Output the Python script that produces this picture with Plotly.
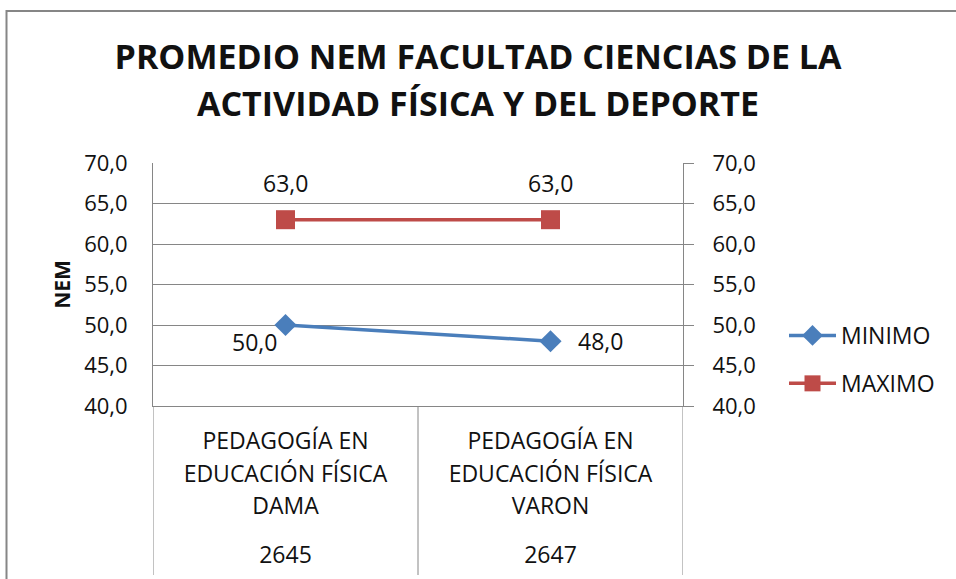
import textwrap
import plotly.graph_objects as go

# ---------------- data ----------------
categories = ["PEDAGOGÍA EN EDUCACIÓN FÍSICA DAMA", "PEDAGOGÍA EN EDUCACIÓN FÍSICA VARON"]
codes = ["2645", "2647"]
minimo = [50.0, 48.0]
maximo = [63.0, 63.0]
series_names = ["MINIMO", "MAXIMO"]
y_ticks = [40, 45, 50, 55, 60, 65, 70]
title_lines = ["PROMEDIO NEM FACULTAD CIENCIAS DE LA", "ACTIVIDAD FÍSICA Y DEL DEPORTE"]
y_title = "NEM"

# ---------------- style ----------------
FONT = "Open Sans"
GRID = "#868686"
BLUE = "#4A7EBB"
RED = "#BE4B48"
TXT = "#111111"
W, H = 956, 579
ML, MR, MT, MB = 153, 273, 163, 173
PW, PH = W - ML - MR, H - MT - MB


def span(t, size):
    return f"<span style='font-size:{size}px'>{t}</span>"


def fmt(v):
    return f"{v:.1f}".replace(".", ",")


# category tick labels: wrapped name, then the programme code below
ticktext = []
for c, code in zip(categories, codes):
    lines = [span(l, 23) for l in textwrap.wrap(c, 16)]
    ticktext.append("<br><br>".join(lines) + "<br><br><br>" + span(code, 23))

fig = go.Figure()
fig.add_trace(go.Scatter(
    x=categories, y=minimo, name=series_names[0], mode="lines+markers",
    line=dict(color=BLUE, width=3.5),
    marker=dict(symbol="diamond", size=17, color=BLUE),
    legendgroup="a", hoverinfo="x+y",
))
fig.add_trace(go.Scatter(
    x=categories, y=maximo, name=series_names[1], mode="lines+markers",
    line=dict(color=RED, width=3.5),
    marker=dict(symbol="square", size=19, color=RED),
    legendgroup="b", hoverinfo="x+y",
))
# carrier for the secondary (right) axis so it gets drawn
fig.add_trace(go.Scatter(
    x=categories, y=maximo, yaxis="y2", mode="markers",
    marker=dict(opacity=0, size=1), showlegend=False, hoverinfo="skip",
))

# data labels
ann = []
for i, v in enumerate(maximo):
    ann.append(dict(x=i, y=v, xref="x", yref="y", text=fmt(v),
                    showarrow=False, yshift=37, font=dict(size=23, color=TXT, family=FONT)))
min_shift = [(-31, -17), (50, 0)]
for i, v in enumerate(minimo):
    ann.append(dict(x=i, y=v, xref="x", yref="y", text=fmt(v),
                    showarrow=False, xshift=min_shift[i][0], yshift=min_shift[i][1],
                    font=dict(size=23, color=TXT, family=FONT)))

title_txt = "<br>".join(span(t, 34) for t in title_lines)

# category dividers below the axis + outer chart border
shapes = [dict(type="line", xref="x", yref="paper", x0=i - 0.5, x1=i - 0.5,
               y0=0, y1=-(575 - 406) / PH, line=dict(color=GRID, width=1))
          for i in range(len(categories) + 1)]
shapes.append(dict(type="rect", xref="paper", yref="paper",
                   x0=(6.5 - ML) / PW, x1=(W + 20 - ML) / PW,
                   y0=(406 - (H + 20)) / PH, y1=(406 - 11) / PH,
                   line=dict(color=GRID, width=2), layer="below"))

fig.update_layout(
    width=W, height=H, autosize=False,
    margin=dict(l=ML, r=MR, t=MT, b=MB, pad=0, autoexpand=False),
    paper_bgcolor="white", plot_bgcolor="white",
    separators=",.",
    font=dict(family=FONT, color=TXT),
    title=dict(text=title_txt, x=0.5, xref="container", xanchor="center",
               y=1 - 69 / H, yref="container", yanchor="middle",
               font=dict(family=FONT, size=36, color=TXT, weight="bold")),
    showlegend=True,
    legend=dict(x=(784 - ML) / PW, xanchor="left", y=(406 - 314) / PH, yanchor="top",
                font=dict(size=23, family=FONT, color=TXT), tracegroupgap=15,
                bgcolor="rgba(0,0,0,0)", itemwidth=47),
    annotations=ann,
    shapes=shapes,
    xaxis=dict(
        type="category", range=[-0.5, len(categories) - 0.5], automargin=False,
        tickvals=categories, ticktext=ticktext,
        showgrid=False, showline=True, linecolor=GRID, linewidth=1,
        ticks="", tickfont=dict(size=12.5, family=FONT, color=TXT),
        ticklabelstandoff=27,
    ),
    yaxis=dict(
        range=[40, 70], tickvals=y_ticks, tickformat=".1f", automargin=False,
        showgrid=True, gridcolor=GRID, gridwidth=1,
        showline=True, linecolor=GRID, linewidth=1, ticks="",
        tickfont=dict(size=22, family=FONT, color=TXT), ticklabelstandoff=20,
        zeroline=False,
        title=dict(text=y_title, standoff=7, font=dict(size=21, family=FONT, color=TXT, weight="bold")),
    ),
    yaxis2=dict(
        overlaying="y", side="right", range=[40, 70], tickvals=y_ticks, tickformat=".1f",
        automargin=False,
        showgrid=False, showline=True, linecolor=GRID, linewidth=1,
        ticks="outside", ticklen=10, tickcolor=GRID, tickwidth=1,
        tickfont=dict(size=22, family=FONT, color=TXT), ticklabelstandoff=14,
        zeroline=False,
    ),
)

fig.write_html("out.html", config={"displayModeBar": False},
               post_script="document.body.style.margin='0';")
